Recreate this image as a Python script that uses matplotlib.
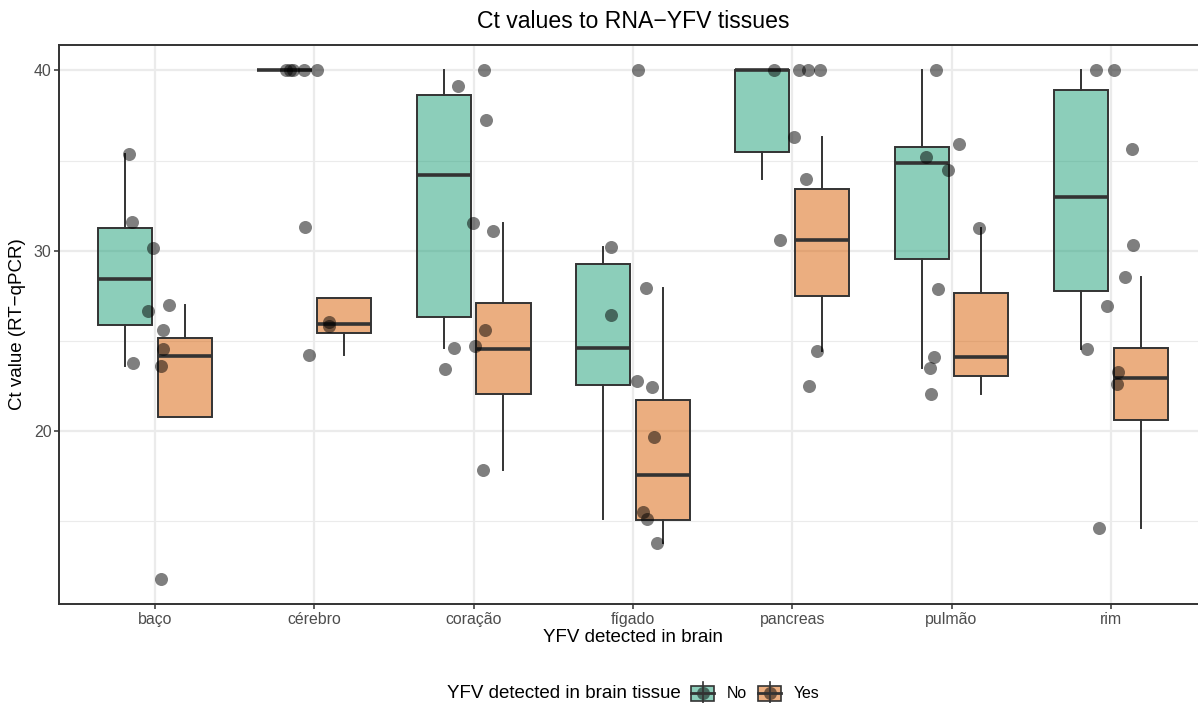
import numpy as np
import matplotlib
matplotlib.use("Agg")
import matplotlib.pyplot as plt
from matplotlib.patches import Rectangle
from matplotlib.lines import Line2D

plt.rcParams['font.family'] = ['Liberation Sans', 'DejaVu Sans']

# ---------------- data ----------------
tissues = ["baço", "cérebro", "coração", "fígado", "pancreas", "pulmão", "rim"]
groups = ["No", "Yes"]

ct_no = [
    [35.34, 31.60, 30.14, 26.66, 25.61, 23.58],
    [40.0, 40.0, 40.0, 40.0, 40.0],
    [40.0, 39.11, 37.25, 31.11, 24.70, 24.57],
    [40.0, 30.22, 26.44, 22.79, 22.43, 15.12],
    [40.0, 40.0, 40.0, 40.0, 33.95, 22.51],
    [40.0, 35.89, 35.22, 34.49, 27.85, 23.46],
    [40.0, 40.0, 35.65, 30.32, 26.94, 24.53],
]
ct_yes = [
    [27.00, 24.53, 23.79, 11.80],
    [31.32, 26.05, 25.80, 24.21],
    [31.52, 25.61, 23.44, 17.81],
    [27.92, 19.66, 15.47, 13.77],
    [36.32, 30.57, 24.41],
    [31.23, 24.11, 22.02],
    [28.52, 23.28, 22.59, 14.62],
]
# horizontal jitter of each point (fraction of category spacing)
jitter_no = [
    [-0.161, -0.144, -0.014, -0.044, 0.052, 0.040],
    [-0.176, -0.151, -0.132, -0.063, 0.019],
    [0.067, -0.100, 0.080, 0.121, 0.008, -0.126],
    [0.031, -0.136, -0.140, 0.025, 0.119, 0.088],
    [-0.117, 0.042, 0.100, 0.174, 0.086, 0.107],
    [-0.099, 0.048, -0.161, -0.023, -0.082, -0.136],
    [-0.092, 0.021, 0.136, 0.140, -0.025, -0.151],
]
jitter_yes = [
    [0.086, 0.052, -0.140, 0.036],
    [-0.061, 0.090, 0.090, -0.033],
    [-0.006, 0.073, -0.178, 0.058],
    [0.080, 0.132, 0.063, 0.153],
    [0.011, -0.075, 0.157],
    [0.171, -0.111, -0.127],
    [0.086, 0.044, 0.038, -0.073],
]
y_ticks = [20, 30, 40]
y_minor = [15, 25, 35]

title = "Ct values to RNA\u2212YFV tissues"
xlabel = "YFV detected in brain"
ylabel = "Ct value (RT\u2212qPCR)"
legend_title = "YFV detected in brain tissue"

# ---------------- style ----------------
W, H = 1198, 703
col_no = "#1B9E77"
col_yes = "#D95F02"
edge = "#333333"
grid_c = "#EBEBEB"

fig = plt.figure(figsize=(W / 100, H / 100), dpi=100)
fig.patch.set_facecolor("white")

axl, axr, axt, axb = 59.4, 1206.4, 45.0, 604.0
ax = fig.add_axes([axl / W, 1 - axb / H, (axr - axl) / W, (axb - axt) / H])
ax.set_xlim(-0.6, 6.6)
ax.set_ylim(10.39, 41.41)

ax.set_yticks(y_ticks)
ax.set_yticks(y_minor, minor=True)
ax.set_xticks(np.arange(len(tissues)))
ax.set_xticklabels(tissues)
ax.grid(which="major", color=grid_c, lw=1.6, zorder=0)
ax.grid(which="minor", axis="y", color=grid_c, lw=0.8, zorder=0)
ax.set_axisbelow(True)
ax.tick_params(which="major", length=3.4, width=1.1, color=edge, labelcolor="#4D4D4D",
               labelsize=11.4, pad=2.3)
ax.tick_params(which="minor", length=0)
for s in ax.spines.values():
    s.set_color(edge)
    s.set_linewidth(1.4)

dodge = 0.1875
bw = 0.34
pos = np.arange(len(tissues))
for data, off, col in [(ct_no, -dodge, col_no), (ct_yes, dodge, col_yes)]:
    bp = ax.boxplot(data, positions=pos + off, widths=bw, patch_artist=True,
                    showfliers=False, showcaps=False, whis=1.5, manage_ticks=False,
                    boxprops=dict(facecolor=matplotlib.colors.to_rgba(col, 0.5),
                                  edgecolor=edge, linewidth=1.4),
                    medianprops=dict(color=edge, linewidth=2.6, solid_capstyle="butt"),
                    whiskerprops=dict(color=edge, linewidth=1.4), zorder=2)

for data, jit in [(ct_no, jitter_no), (ct_yes, jitter_yes)]:
    for i, (vals, jj) in enumerate(zip(data, jit)):
        ax.scatter(i + np.array(jj), vals, s=88, color="black", alpha=0.5,
                   linewidths=0, zorder=3)

def fx(x):
    return x / W

def fy(y):
    return 1 - y / H

fig.text(fx((axl + axr) / 2), fy(21), title, ha="center", va="center", fontsize=16.6)
fig.text(fx((axl + axr) / 2), fy(637), xlabel, ha="center", va="center", fontsize=13.5)
fig.text(fx(18), fy((axt + axb) / 2), ylabel, ha="center", va="center", rotation=90,
         fontsize=13.5)

# ---------------- legend ----------------
lax = fig.add_axes([0, 0, 1, 1])
lax.set_xlim(0, W)
lax.set_ylim(H, 0)
lax.axis("off")
lax.text(447, 693, legend_title, ha="left", va="center", fontsize=13.5)
for x0, col, lab in [(691, col_no, groups[0]), (758, col_yes, groups[1])]:
    cx = x0 + 11.5
    lax.add_line(Line2D([cx, cx], [682, 704.5], color=edge, lw=1.2))
    lax.add_patch(Rectangle((x0, 686), 23, 14.5, facecolor=matplotlib.colors.to_rgba(col, 0.5),
                            edgecolor=edge, lw=1.2))
    lax.add_line(Line2D([x0, x0 + 23], [693.2, 693.2], color=edge, lw=2.0))
    lax.scatter([cx], [693.2], s=88, color="black", alpha=0.5, linewidths=0)
    lax.text(x0 + 36, 693, lab, ha="left", va="center", fontsize=11.4)

fig.savefig("out.png", dpi=100)
